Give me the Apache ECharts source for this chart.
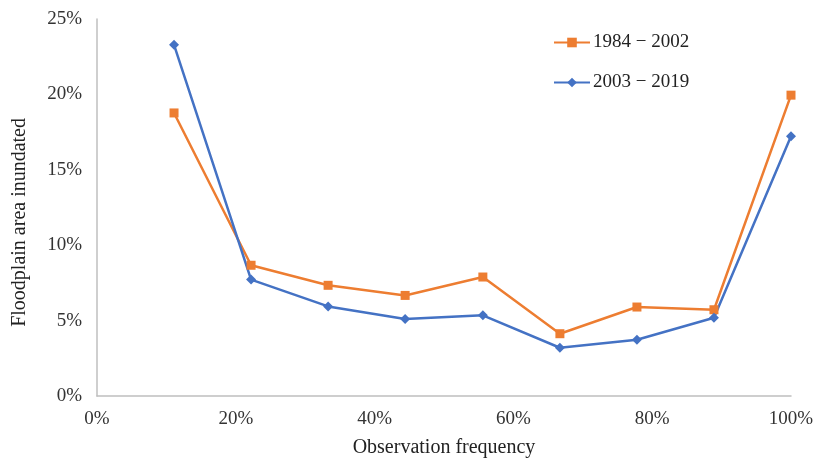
<!DOCTYPE html>
<html>
<head>
<meta charset="utf-8">
<script src="https://cdn.jsdelivr.net/npm/echarts@6/dist/echarts.min.js"></script>
<style>
  html, body { margin: 0; padding: 0; background: #fff; }
  #main { width: 815px; height: 459px; }
</style>
</head>
<body>
<div id="main"></div>
<script>
// observation frequency (x) and inundated share (y)
var obsFreq = [0.111, 0.222, 0.333, 0.444, 0.556, 0.667, 0.778, 0.889, 1.0];
var early = [0.1877, 0.0867, 0.0734, 0.0667, 0.0789, 0.0413, 0.0590, 0.0572, 0.1995];
var late = [0.2329, 0.0772, 0.0594, 0.0510, 0.0535, 0.0320, 0.0373, 0.0519, 0.1723];
var seriesNames = ['1984 \u2212 2002', '2003 \u2212 2019'];

var font = '"Liberation Serif", "Times New Roman", serif';

function pairs(ys) {
  return obsFreq.map(function (x, i) { return [x, ys[i]]; });
}
function pct(v) {
  return Math.round(v * 100) + '%';
}

var myChart = echarts.init(document.getElementById('main'));

var option = {
  backgroundColor: '#fff',
  animation: false,
  textStyle: { fontFamily: font },
  grid: { left: 97, right: 24, top: 19, bottom: 63, outerBoundsMode: 'none' },
  legend: {
    orient: 'vertical',
    left: 553,
    top: 33,
    padding: 0,
    itemWidth: 36,
    itemHeight: 12,
    itemGap: 21,
    textStyle: { fontFamily: font, fontSize: 19, color: '#222', padding: [0, 0, 0, -2] },
    data: seriesNames
  },
  xAxis: {
    type: 'value',
    min: 0,
    max: 1,
    interval: 0.2,
    name: 'Observation frequency',
    nameLocation: 'middle',
    nameGap: 42,
    nameTextStyle: { fontFamily: font, fontSize: 20, color: '#222' },
    axisLine: { show: true, lineStyle: { color: '#bfbfbf', width: 1.5 } },
    axisTick: { show: false },
    splitLine: { show: false },
    axisLabel: { formatter: pct, fontFamily: font, fontSize: 19, color: '#333', margin: 14 }
  },
  yAxis: {
    type: 'value',
    min: 0,
    max: 0.25,
    interval: 0.05,
    axisLine: { show: true, lineStyle: { color: '#bfbfbf', width: 1.5 } },
    axisTick: { show: false },
    splitLine: { show: false },
    axisLabel: { formatter: pct, fontFamily: font, fontSize: 19, color: '#333', margin: 15 }
  },
  graphic: [{
    type: 'text',
    left: 10,
    top: 118,
    rotation: Math.PI / 2,
    style: {
      text: 'Floodplain area inundated',
      font: '20px ' + font,
      fill: '#222'
    }
  }],
  series: [
    {
      name: seriesNames[0],
      type: 'line',
      data: pairs(early),
      symbol: 'rect',
      symbolSize: 9,
      lineStyle: { color: '#ED7D31', width: 2.5 },
      itemStyle: { color: '#ED7D31' }
    },
    {
      name: seriesNames[1],
      type: 'line',
      data: pairs(late),
      symbol: 'diamond',
      symbolSize: 10,
      lineStyle: { color: '#4472C4', width: 2.5 },
      itemStyle: { color: '#4472C4' }
    }
  ]
};

myChart.setOption(option);
</script>
</body>
</html>
